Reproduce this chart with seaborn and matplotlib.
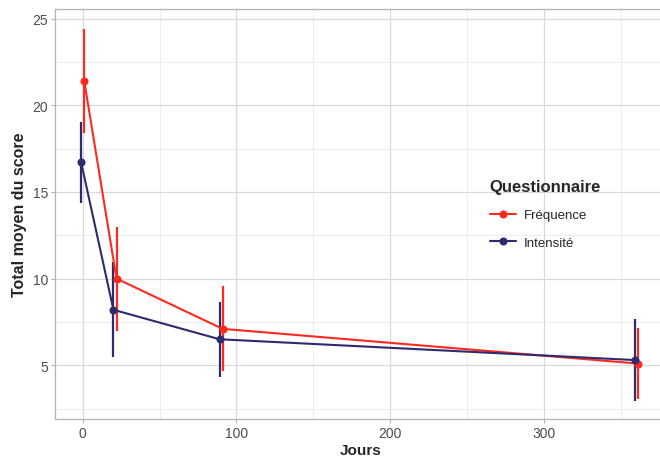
import matplotlib
matplotlib.use("Agg")
import matplotlib.pyplot as plt
from matplotlib.ticker import MultipleLocator
import numpy as np
import pandas as pd
import seaborn as sns

# Mean score per visit day, with spread (± SD) for each questionnaire
jours = [0, 21, 90, 360]
questionnaires = ["Fréquence", "Intensité"]
frequence_moy = [21.4, 10.0, 7.1, 5.1]
frequence_sd = [3.0, 3.0, 2.45, 2.05]
intensite_moy = [16.7, 8.2, 6.5, 5.3]
intensite_sd = [2.35, 2.75, 2.15, 2.35]

couleurs = {"Fréquence": "#FF2A1F", "Intensité": "#2D2A6E"}
decalage = {"Fréquence": 1.0, "Intensité": -1.0}

df = pd.DataFrame({
    "Jours": jours * 2,
    "moyenne": frequence_moy + intensite_moy,
    "sd": frequence_sd + intensite_sd,
    "Questionnaire": [questionnaires[0]] * len(jours) + [questionnaires[1]] * len(jours),
})
df["x"] = df["Jours"] + df["Questionnaire"].map(decalage)

sns.set_theme(style="whitegrid")
plt.rcParams["font.family"] = ["Liberation Sans", "DejaVu Sans"]

fig = plt.figure(figsize=(6.6, 4.64), dpi=100)
ax = fig.add_axes([55 / 660, 44 / 464, (667 - 55) / 660, 410 / 464])

for q in questionnaires:
    sub = df[df["Questionnaire"] == q]
    ax.errorbar(sub["x"], sub["moyenne"], yerr=sub["sd"], fmt="none",
                ecolor=couleurs[q], elinewidth=1.6, capsize=0, zorder=3)

sns.lineplot(data=df, x="x", y="moyenne", hue="Questionnaire",
             palette=couleurs, hue_order=questionnaires, marker="o",
             markersize=5.8, markeredgewidth=0, linewidth=1.5, ax=ax,
             zorder=4)

ax.set_xlim(-18, 380)
ax.set_ylim(1.9, 25.55)
ax.xaxis.set_major_locator(MultipleLocator(100))
ax.xaxis.set_minor_locator(MultipleLocator(50))
ax.yaxis.set_major_locator(MultipleLocator(5))
ax.yaxis.set_minor_locator(MultipleLocator(2.5))

ax.grid(which="major", color="#d9d9d9", linewidth=0.9)
ax.grid(which="minor", color="#e6e6e6", linewidth=0.5)
ax.set_axisbelow(True)
for s in ax.spines.values():
    s.set_color("#b3b3b3")
    s.set_linewidth(0.9)

ax.tick_params(axis="both", which="major", length=3, width=0.8,
               color="#b3b3b3", labelcolor="#4d4d4d", labelsize=10, pad=2,
               bottom=True, left=True)
ax.tick_params(which="minor", length=0)

ax.set_xlabel("Jours", fontsize=11, fontweight="bold", labelpad=2)
ax.set_ylabel("Total moyen du score", fontsize=11.5, fontweight="bold", labelpad=4)

handles, labels = ax.get_legend_handles_labels()
leg = ax.legend(handles, labels, title="Questionnaire", frameon=False,
                loc="upper left", bbox_to_anchor=(478 / 660, 1 - 168 / 464),
                bbox_transform=fig.transFigure, fontsize=9.5,
                title_fontsize=12, handlelength=2.0, handletextpad=0.6,
                labelspacing=1.15, alignment="left")
leg.get_title().set_fontweight("bold")

fig.savefig("out.png", dpi=100)
